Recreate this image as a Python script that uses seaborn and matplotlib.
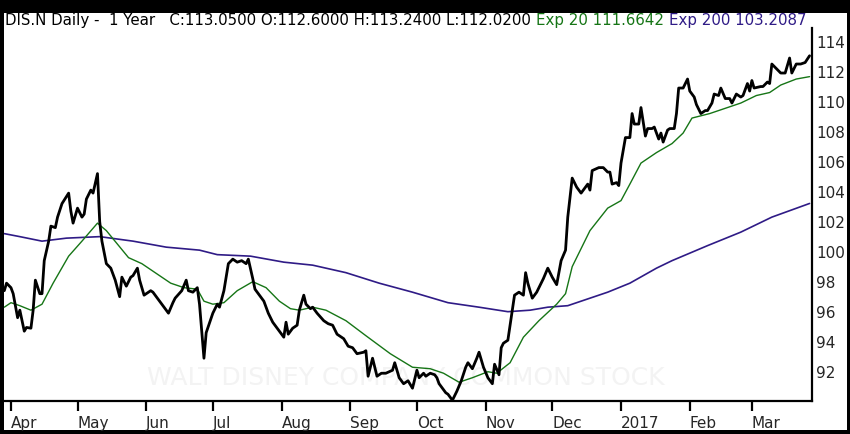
import pandas as pd
import matplotlib
matplotlib.use('Agg')
import matplotlib.pyplot as plt
import matplotlib.dates as mdates
from matplotlib.patches import Rectangle
import seaborn as sns

# Prices; days are calendar days after 2016-03-28
close_days = [1, 2, 4, 5, 7, 8, 10, 11, 13, 14, 15, 17, 18, 19, 21, 22, 24, 25, 27, 30,
              31, 32, 34, 36, 37, 38, 40, 41, 43, 44, 45, 47, 49, 51, 53, 54, 56, 58, 59, 61,
              62, 64, 67, 68, 71, 75, 77, 78, 81, 83, 84, 86, 88, 89, 91, 92, 95, 97, 98, 100,
              102, 104, 106, 108, 110, 111, 113, 114, 118, 120, 122, 124, 127, 128, 129, 131, 133, 134, 136, 137,
              139, 140, 142, 145, 147, 149, 151, 154, 156, 158, 160, 163, 164, 165, 167, 169, 171, 173, 176, 177,
              179, 181, 183, 185, 187, 188, 190, 191, 193, 195, 196, 197, 200, 201, 203, 205, 207, 209, 210, 212,
              214, 215, 217, 219, 221, 222, 224, 225, 226, 228, 230, 231, 233, 235, 236, 237, 239, 241, 244, 246,
              248, 250, 252, 254, 255, 257, 259, 261, 263, 264, 265, 266, 269, 271, 273, 274, 275, 277, 278, 279,
              281, 283, 284, 285, 287, 288, 290, 291, 293, 294, 296, 297, 298, 300, 301, 303, 304, 305, 307, 309,
              310, 312, 313, 315, 317, 318, 320, 321, 323, 324, 326, 328, 329, 331, 333, 334, 336, 337, 338, 339,
              342, 343, 345, 346, 347, 349, 351, 353, 355, 356, 358, 360, 362, 364]
close = [97.4, 97.9, 97.6, 97.2, 95.6, 96.1, 94.7, 94.95, 94.9, 96.1, 98.1, 97.2, 97.2, 99.4, 100.7, 101.7, 101.6, 102.3, 103.2, 103.9,
         102.7, 101.9, 102.9, 102.3, 102.5, 103.5, 104.1, 103.9, 105.2, 102.0, 100.7, 99.2, 98.9, 98.1, 97.0, 98.3, 97.7, 98.3, 98.4, 98.9,
         98.1, 97.1, 97.4, 97.3, 96.7, 95.9, 96.6, 96.9, 97.4, 98.1, 97.4, 97.3, 97.6, 96.5, 92.9, 94.6, 95.9, 96.5, 96.3, 97.4,
         99.2, 99.5, 99.3, 99.4, 99.2, 99.5, 98.2, 97.5, 96.7, 95.9, 95.3, 94.9, 94.3, 95.3, 94.5, 94.9, 95.1, 96.1, 97.1, 96.5,
         96.2, 96.3, 95.9, 95.4, 95.2, 95.1, 94.5, 94.2, 93.7, 93.6, 93.2, 93.3, 93.4, 91.7, 92.9, 91.7, 91.9, 91.9, 92.1, 92.6,
         91.6, 91.2, 91.4, 90.9, 92.1, 91.6, 91.9, 91.7, 91.9, 91.8, 91.6, 91.2, 90.6, 90.5, 90.1, 90.7, 91.4, 92.3, 92.6, 92.2,
         92.9, 93.3, 92.3, 91.6, 91.2, 92.5, 91.8, 93.6, 93.9, 94.1, 96.1, 97.1, 97.3, 97.1, 98.6, 97.9, 96.9, 97.3, 98.2, 98.9,
         98.3, 97.8, 99.4, 100.1, 102.3, 104.9, 104.3, 103.9, 104.3, 104.5, 104.1, 105.4, 105.6, 105.6, 105.3, 105.3, 104.5, 104.6, 104.4, 105.9,
         107.6, 107.6, 109.2, 108.5, 108.5, 109.6, 107.7, 108.2, 108.2, 108.3, 107.5, 107.9, 107.3, 108.1, 108.2, 108.2, 109.2, 110.9, 110.9, 111.5,
         110.7, 110.3, 109.8, 109.2, 109.4, 109.4, 109.9, 110.5, 110.4, 110.9, 110.2, 110.2, 109.9, 110.5, 110.3, 110.4, 111.2, 110.7, 111.4, 110.9,
         111.0, 111.0, 111.3, 111.2, 112.5, 112.2, 111.9, 111.9, 112.9, 111.9, 112.5, 112.5, 112.6, 113.05]

ema20_days = [1, 4, 8, 13, 18, 23, 30, 36, 43, 47, 52, 57, 63, 70, 76, 82, 88, 91, 95, 100,
              106, 113, 119, 125, 130, 134, 140, 146, 155, 164, 175, 185, 193, 199, 206, 212, 219, 223, 229, 235,
              242, 250, 254, 257, 265, 273, 279, 283, 288, 295, 302, 307, 311, 319, 325, 333, 340, 346, 351, 358, 364]
ema20 = [96.3, 96.6, 96.4, 96.1, 96.5, 97.9, 99.7, 100.7, 101.9, 101.4, 100.5, 99.6, 99.2, 98.5, 97.9, 97.6, 97.5, 96.7, 96.5, 96.6,
         97.4, 98.0, 97.6, 96.7, 96.2, 96.1, 96.3, 96.1, 95.4, 94.4, 93.2, 92.3, 92.2, 91.9, 91.3, 91.6, 92.0, 91.9, 92.6, 94.3,
         95.4, 96.5, 97.2, 99.0, 101.4, 102.9, 103.4, 104.5, 105.9, 106.6, 107.2, 107.9, 108.9, 109.2, 109.5, 109.9, 110.4, 110.6, 111.1, 111.5, 111.66]

ema200_days = [1, 8, 18, 29, 44, 59, 74, 89, 97, 112, 127, 140, 155, 170, 185, 201, 215, 228, 238, 246,
               255, 265, 273, 283, 295, 302, 318, 333, 347, 364]
ema200 = [101.2, 101.0, 100.7, 100.9, 101.0, 100.7, 100.3, 100.1, 99.8, 99.7, 99.3, 99.1, 98.6, 97.9, 97.3, 96.6, 96.3, 96.0, 96.1, 96.3,
          96.4, 96.9, 97.3, 97.9, 98.9, 99.4, 100.4, 101.3, 102.3, 103.21]

month_labels = ['Apr', 'May', 'Jun', 'Jul', 'Aug', 'Sep', 'Oct', 'Nov', 'Dec', '2017', 'Feb', 'Mar']
y_ticks = [92, 94, 96, 98, 100, 102, 104, 106, 108, 110, 112, 114]

title_main = 'DIS.N Daily -  1 Year   C:113.0500 O:112.6000 H:113.2400 L:112.0200'
title_exp20 = 'Exp 20 111.6642'
title_exp200 = 'Exp 200 103.2087'
watermark = 'WALT DISNEY COMPANY COMMON STOCK'

green = '#167516'
purple = '#2f1b86'

origin = pd.Timestamp('2016-03-28')


def to_frame(days, values):
    return pd.DataFrame({'date': origin + pd.to_timedelta(days, unit='D'), 'price': values})


df_close = to_frame(close_days, close)
df_ema20 = to_frame(ema20_days, ema20)
df_ema200 = to_frame(ema200_days, ema200)

sns.set_style('white')
plt.rcParams['font.family'] = ['DejaVu Sans']

W, H = 850, 434
fig = plt.figure(figsize=(W / 100, H / 100), dpi=100, facecolor='black')
fig.add_artist(Rectangle((3.5 / W, 4 / H), 843 / W, 417.5 / H, transform=fig.transFigure,
                         facecolor='white', edgecolor='none', zorder=0))
ax = fig.add_axes([4 / W, 33 / H, 808 / W, 373 / H])
ax.set_facecolor('white')

# faint watermark behind the lines
ax.text(0.4975, 0.062, watermark, transform=ax.transAxes, ha='center', va='center',
        fontsize=18, color='#f3f3f3', zorder=0)

sns.lineplot(data=df_ema200, x='date', y='price', color=purple, linewidth=1.2, estimator=None, ax=ax)
sns.lineplot(data=df_ema20, x='date', y='price', color=green, linewidth=1.0, estimator=None, ax=ax)
sns.lineplot(data=df_close, x='date', y='price', color='black', linewidth=2.0, estimator=None, ax=ax)

ax.set_xlim(mdates.date2num(origin + pd.Timedelta(days=0.86)),
            mdates.date2num(origin + pd.Timedelta(days=365.1)))
ax.set_ylim(90.05, 114.9)
ax.set_xlabel('')
ax.set_ylabel('')

month_ticks = pd.date_range('2016-04-01', periods=len(month_labels), freq='MS')
ax.set_xticks(month_ticks)
ax.set_xticklabels(month_labels, ha='left')
ax.tick_params(axis='x', bottom=True, direction='out', length=7.5, width=1.6, pad=3.5,
               labelsize=11, color='black')

ax.yaxis.tick_right()
ax.set_yticks(y_ticks)
ax.tick_params(axis='y', length=0, pad=3, labelsize=11)

for side in ['top', 'left']:
    ax.spines[side].set_visible(False)
for side in ['right', 'bottom']:
    ax.spines[side].set_color('black')
    ax.spines[side].set_linewidth(1.6)

# title line in three colours, placed piece by piece
fig.canvas.draw()
renderer = fig.canvas.get_renderer()
x = 5 / W
for text, color in [(title_main, 'black'), (title_exp20, green), (title_exp200, purple)]:
    t = fig.text(x, 1 - 20 / H, text, color=color, fontsize=10.8, ha='left', va='center')
    bb = t.get_window_extent(renderer=renderer)
    x = (bb.x1 + 5) / W

fig.savefig('out.png', dpi=100, facecolor='black')
